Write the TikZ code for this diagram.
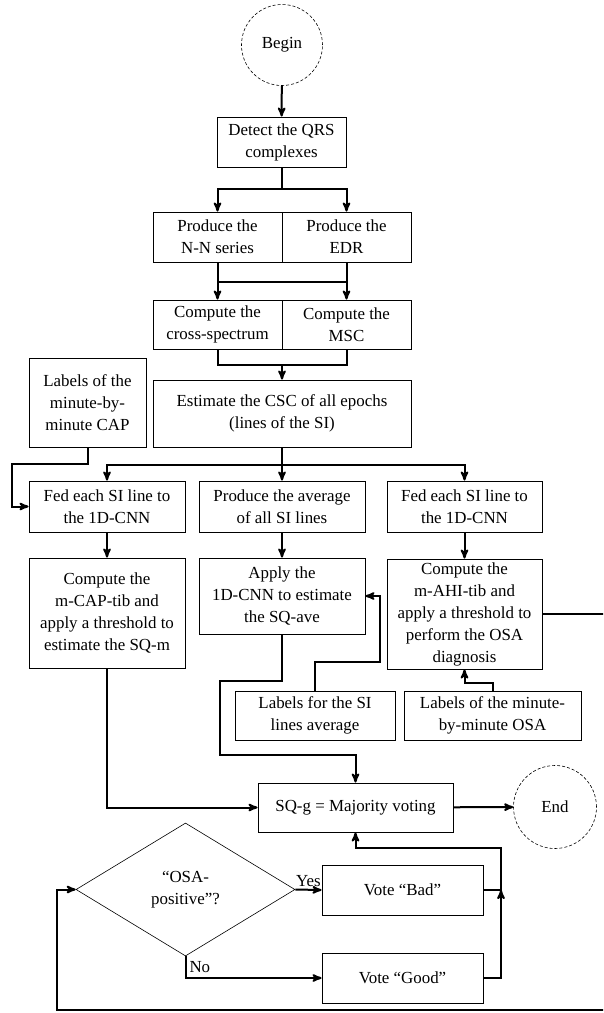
\documentclass[tikz,border=0pt]{standalone}
\usepackage{fontspec}
\setmainfont{Liberation Serif}
\usetikzlibrary{arrows,positioning,shapes.geometric}

\begin{document}
\begin{tikzpicture}[x=1pt,y=-1pt,->,>=stealth',line width=2pt,font=\fontsize{16.9}{22}\selectfont]
  \tikzstyle{box}=[draw,line width=0.9pt,align=center,inner sep=2pt]
  \tikzstyle{terminal}=[draw,circle,densely dashed,line width=0.6pt,minimum size=81pt]
  \tikzstyle{decision}=[draw,diamond,line width=0.6pt,align=center,minimum width=219pt,minimum height=133pt,inner sep=0pt]

  \useasboundingbox (0,0) rectangle (603,1013);
  \clip (0,0) rectangle (603,1013);

  \node[terminal] (begin) at (282,45) {Begin};
  \node[box,minimum width=129pt,minimum height=50pt] (detect) at (281.5,142) {Detect the QRS\\complexes};
  \node[box,minimum width=129pt,minimum height=50pt] (nn) at (217.5,237) {Produce the\\N-N series};
  \node[box,minimum width=129pt,minimum height=50pt] (edr) at (346.5,237) {Produce the\\EDR};
  \node[box,minimum width=129pt,minimum height=49pt] (cross) at (217.5,324.5) {Compute the\\cross-spectrum};
  \node[box,minimum width=129pt,minimum height=49pt] (msc) at (346.5,324.5) {Compute the\\MSC};
  \node[box,minimum width=258pt,minimum height=67pt] (csc) at (282,413.5) {Estimate the CSC of all epochs\\(lines of the SI)};
  \node[box,minimum width=117pt,minimum height=89pt] (cap) at (87.5,402.5) {Labels of the\\minute-by-\\minute CAP};

  \node[box,minimum width=156pt,minimum height=51pt] (feedL) at (107,506.5) {Fed each SI line to\\the 1D-CNN};
  \node[box,minimum width=166pt,minimum height=51pt] (avg) at (282,506.5) {Produce the average\\of all SI lines};
  \node[box,minimum width=155pt,minimum height=51pt] (feedR) at (464.5,506.5) {Fed each SI line to\\the 1D-CNN};
  \node[box,minimum width=156pt,minimum height=110pt] (mcap) at (107,613) {Compute the\\m-CAP-tib and\\apply a threshold to\\estimate the SQ-m};
  \node[box,minimum width=166pt,minimum height=76pt] (apply) at (282,596) {Apply the\\1D-CNN to estimate\\the SQ-ave};
  \node[box,minimum width=155pt,minimum height=110pt] (ahi) at (464.5,614) {Compute the\\m-AHI-tib and\\apply a threshold to\\perform the OSA\\diagnosis};
  \node[box,minimum width=160pt,minimum height=49pt] (labSI) at (315,715.5) {Labels for the SI\\lines average};
  \node[box,minimum width=177pt,minimum height=49pt] (labOSA) at (492.5,715.5) {Labels of the minute-\\by-minute OSA};

  \node[box,minimum width=195pt,minimum height=49pt] (major) at (355.5,807.5) {SQ-g = Majority voting};
  \node[terminal,minimum size=83pt] (end) at (555,807) {End};
  \node[decision] (osa) at (185.5,889.5) {“OSA-\\positive”?};
  \node[box,minimum width=161pt,minimum height=50pt] (bad) at (402.5,890) {Vote “Bad”};
  \node[box,minimum width=161pt,minimum height=50pt] (good) at (402.5,978) {Vote “Good”};
  \coordinate (join) at (501,890);

  % top part
  \draw (begin) -- (detect);
  \draw (detect.south) -- (detect.south |- 0,189) -| (nn.north);
  \draw (detect.south |- 0,189) -| (edr.north);
  \draw (nn) -- (cross);
  \draw (edr) -- (msc);
  \draw[-] (nn.south |- 0,282) -- (edr.south |- 0,282);
  \draw[-] (cross.south) |- (msc.south |- 0,365) -- (msc.south);
  \draw (csc.north |- 0,365) -- (csc.north);

  % three branches
  \draw (csc.south) -- (csc.south |- 0,465) -| (feedL.north);
  \draw (csc.south |- 0,465) -| (feedR.north);
  \draw (csc.south |- 0,465) -- (avg.north);
  \draw (cap.south) |- (12,464) |- (feedL.west);
  \draw (feedL) -- (mcap);
  \draw (avg) -- (apply);
  \draw (feedR) -- (ahi);
  \draw (labSI.north) |- (380,662) |- (apply.east);
  \draw (labOSA.north) -- (labOSA.north |- 0,683) -| (ahi.south);

  % voting
  \draw (mcap.south) |- (major.west);
  \draw (apply.south) -- (282,681) -| (220,755) -| (major.north);
  \draw (major) -- (end);
  \draw (ahi.east) -| (615,1010) -| (57,889.5) -- (osa.west);
  \draw (osa.east) -- node[above,inner sep=2pt] {Yes} (bad.west);
  \draw (osa.south) |- node[pos=0.25,right,inner sep=3pt] {No} (good.west);
  \draw (bad.east) -| (501,848) -| (major.south);
  \draw (good.east) -| (join);
\end{tikzpicture}
\end{document}
